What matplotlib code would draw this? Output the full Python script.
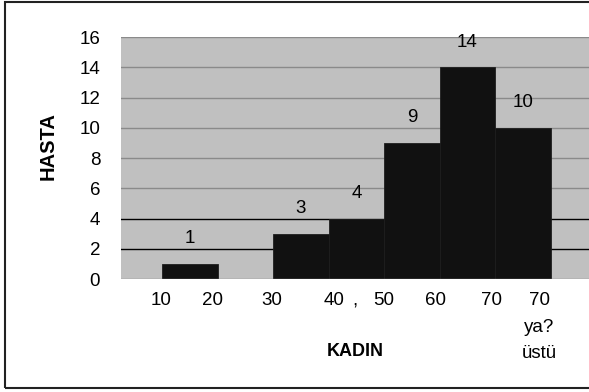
import numpy as np
import matplotlib.pyplot as plt
from matplotlib.patches import Rectangle

plt.rcParams['font.family'] = ['Liberation Sans', 'DejaVu Sans']

# data
groups = ["10-20", "20-30", "30-40", "40-50", "50-60", "60-70", "70+"]
hasta = [1, 0, 3, 4, 9, 14, 10]

# the original axis labels sit oddly between the bars
tick_text = ["10", "20", "30", "40", ",", "50", "60", "70", "70\nya?\nüstü"]
tick_pos = [-0.52, 0.40, 1.48, 2.60, 2.98, 3.50, 4.42, 5.43, 6.29]

fig = plt.figure(figsize=(5.89, 3.92), dpi=100)
ax = fig.add_axes([121 / 589, 113 / 392, 1 - 121 / 589, 242 / 392])

x = np.arange(len(groups))
ax.set_facecolor("#c0c0c0")
ax.bar(x, hasta, width=1.0, color="#111111", edgecolor="#1e1e1e", linewidth=0.6, zorder=3)

for xi, v in zip(x, hasta):
    if v > 0:
        ax.annotate(str(v), (xi, v), xytext=(0, 18), textcoords="offset points",
                    ha="center", va="center", fontsize=13.5)

ax.set_xlim(-1.24, 7.19)
ax.set_ylim(0, 16)
ax.set_yticks(range(0, 17, 2))
ax.tick_params(axis="y", length=0, pad=15, labelsize=13.5)
ax.set_xticks([])

# gridlines: grey above, black at 2 and 4
for yv in range(2, 17, 2):
    ax.axhline(yv, color="black" if yv <= 4 else "#8a8a8a", linewidth=1.0, zorder=2)
ax.axhline(0, color="#8a8a8a", linewidth=1.0, zorder=4)

for s in ax.spines.values():
    s.set_visible(False)

for t, p in zip(tick_text, tick_pos):
    ax.text(p, -0.89, t, ha="center", va="top", fontsize=13.5, linespacing=1.7)

fig.text(355 / 589, 1 - 352 / 392, "KADIN", ha="center", va="center",
         fontsize=13, fontweight="bold")
fig.text(48 / 589, 1 - 146 / 392, "HASTA", ha="center", va="center",
         fontsize=14.5, fontweight="bold", rotation=90)

# outer frame of the chart
fig.patches.append(Rectangle((4.5 / 589, 4 / 392), 1.0, 386.5 / 392, transform=fig.transFigure,
                             fill=False, edgecolor="#222222", linewidth=1.5))

fig.savefig("out.png", dpi=100)
